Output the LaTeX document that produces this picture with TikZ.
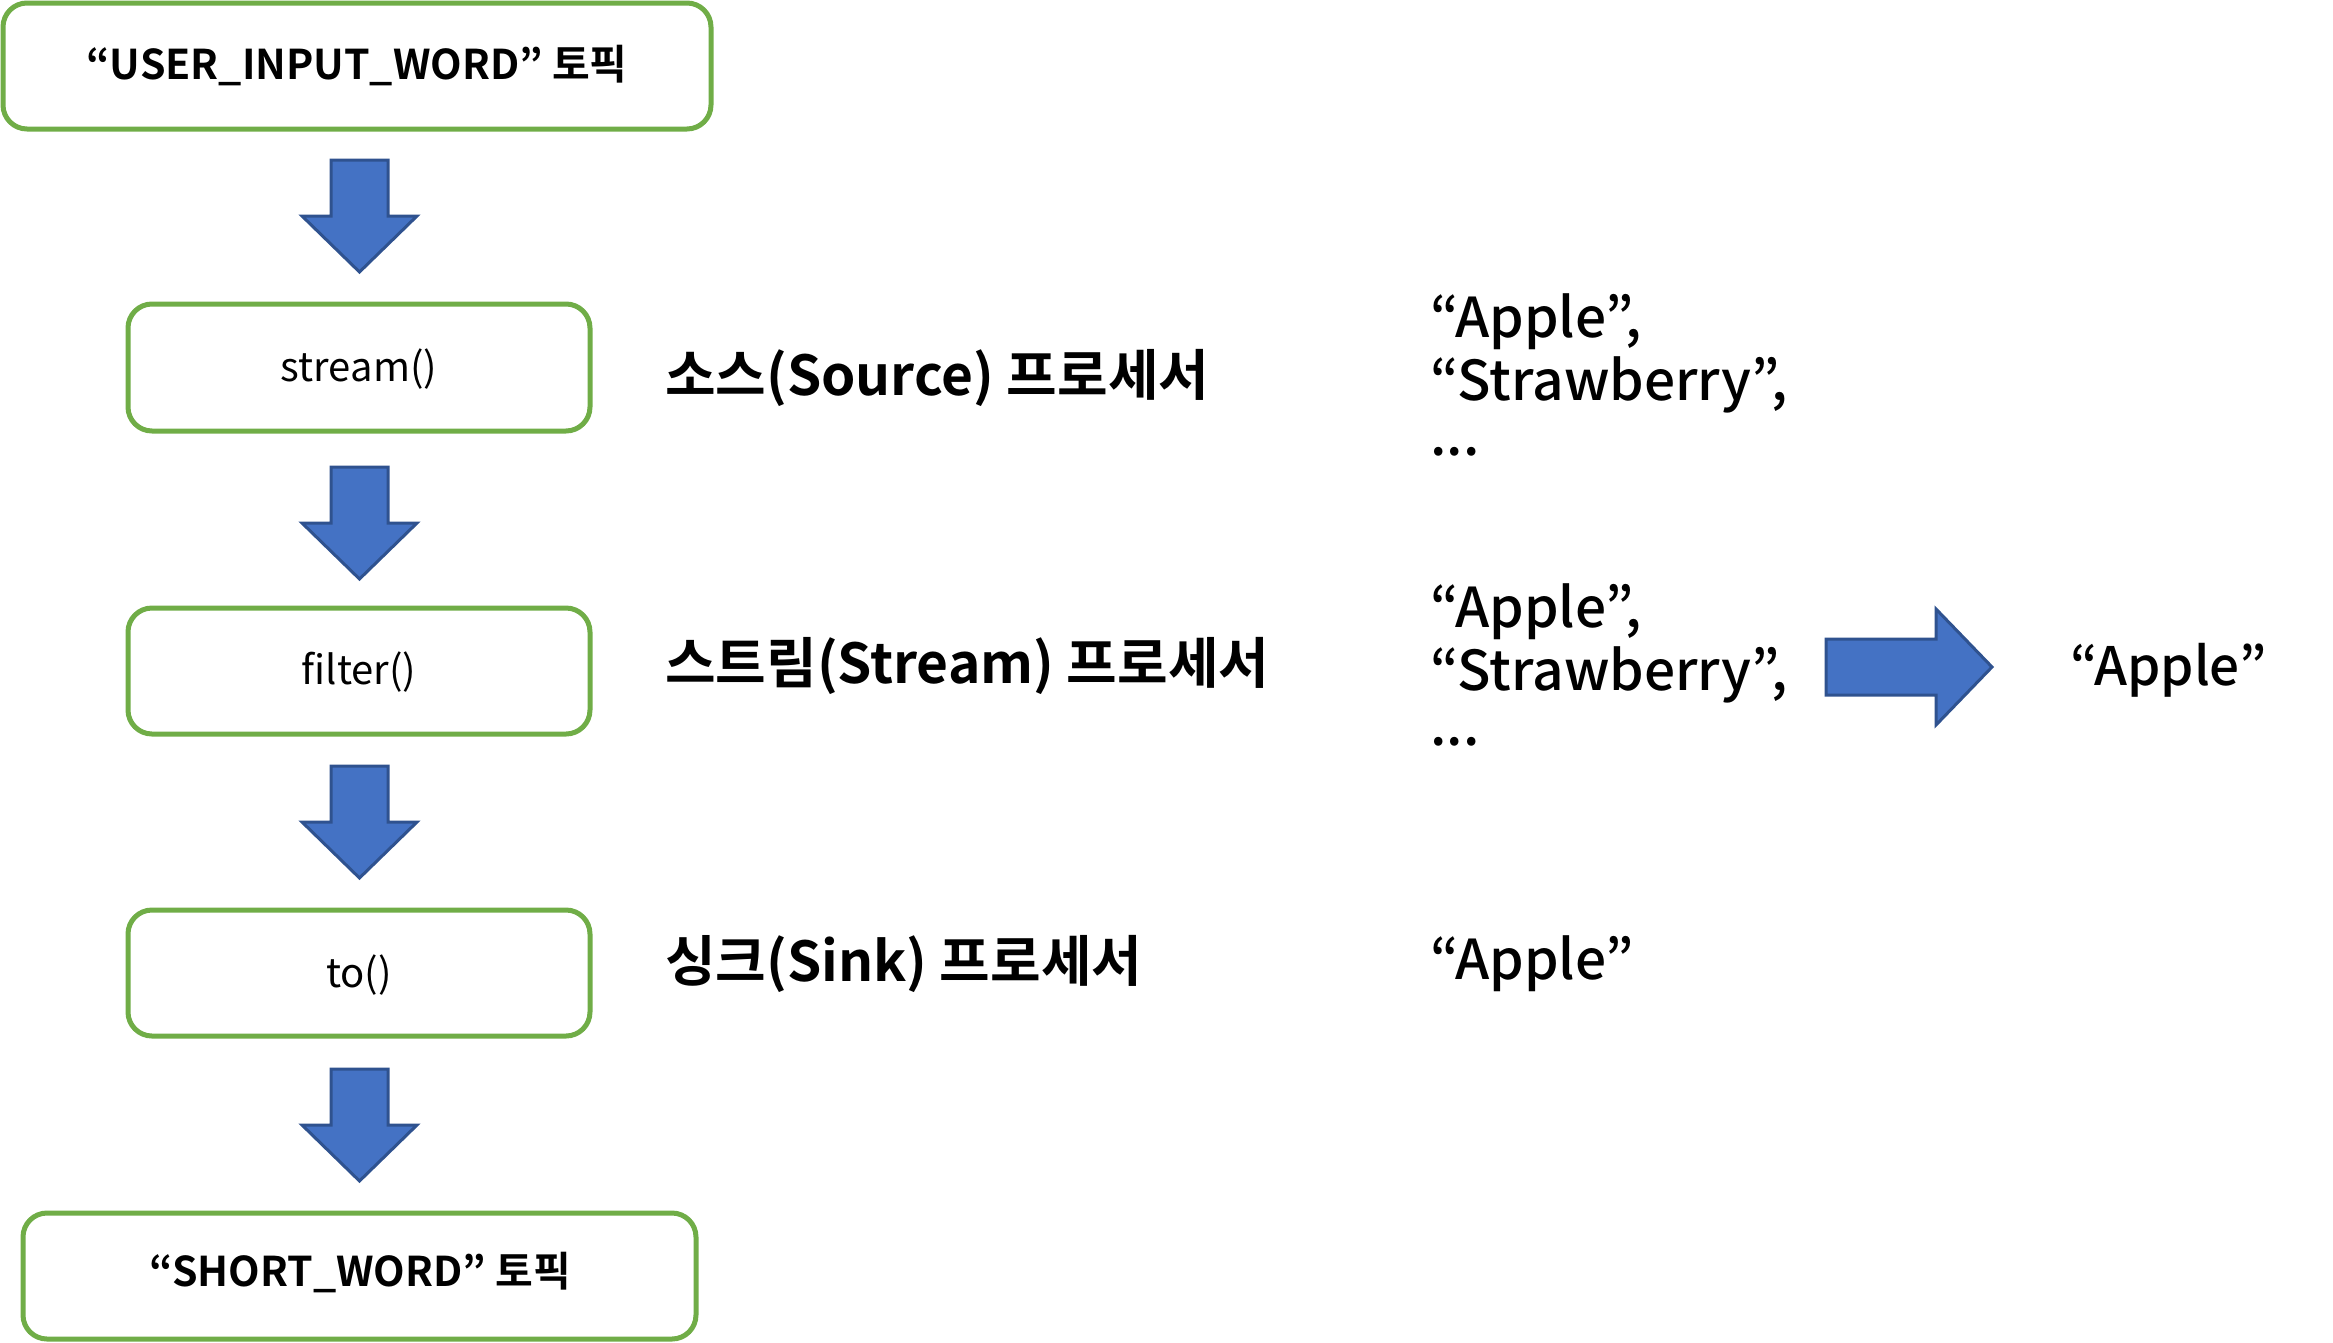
\documentclass[tikz,border=0pt]{standalone}
\usepackage{fontspec}
\setmainfont{Noto Sans CJK KR}
\newfontfamily\krbold{Noto Sans CJK KR Bold}
\newfontfamily\krmed{Noto Sans CJK KR Medium}
\usetikzlibrary{positioning}
\definecolor{boxgreen}{RGB}{112,173,71}
\definecolor{arrfill}{RGB}{68,114,196}
\definecolor{arrdraw}{RGB}{47,82,143}
\tikzset{
  flowbox/.style={draw=boxgreen, line width=5pt, rounded corners=24pt, fill=white},
  bigarrow/.style={fill=arrfill, draw=arrdraw, line width=3pt, line join=miter},
  boxtext/.style={font=\fontsize{40}{46}\selectfont, inner sep=0pt},
  topictext/.style={font=\krbold\fontsize{41}{48}\selectfont, inner sep=0pt},
  labeltext/.style={font=\krbold\fontsize{55}{63}\selectfont, anchor=base west, inner sep=0pt},
  valtext/.style={font=\krmed\fontsize{55}{63}\selectfont, anchor=base west, inner sep=0pt, align=left},
}
\begin{document}
\begin{tikzpicture}[x=1pt,y=-1pt]
\useasboundingbox (0,0) rectangle (2333,1342);
% boxes
\draw[flowbox] (3,3) rectangle (711,129);
\node[topictext] (user) at (357,66) {“USER\_INPUT\_WORD” 토픽};
\draw[flowbox] (128,304) rectangle (590,431);
\node[boxtext] (stream) at (359,369) {stream()};
\draw[flowbox] (128,608) rectangle (590,734);
\node[boxtext] (filter) at (359,672) {filter()};
\draw[flowbox] (128,910) rectangle (590,1036);
\node[boxtext] (to) at (359,975) {to()};
\draw[flowbox] (23,1213) rectangle (696,1339);
\node[topictext] (short) at (360,1272) {“SHORT\_WORD” 토픽};
% down arrows
\foreach \t in {160,467,766,1069}{
  \draw[bigarrow] (331,\t) -- (388,\t) -- (388,\t+56) -- (417,\t+56) -- (359.5,\t+112)
    -- (302,\t+56) -- (331,\t+56) -- cycle;
}
% right arrow
\draw[bigarrow] (1826,639) -- (1936,639) -- (1936,609) -- (1992,667) -- (1936,725)
  -- (1936,695) -- (1826,695) -- cycle;
% labels
\node[labeltext] (lsrc) at (665,395) {소스(Source) 프로세서};
\node[labeltext] (lstr) at (665,683) {스트림(Stream) 프로세서};
\node[labeltext] (lsnk) at (665,981) {싱크(Sink) 프로세서};
% values
\node[valtext] (v1a) at (1430,337) {“Apple”,};
\node[valtext] (v1b) at (1430,400) {“Strawberry”,};
\node[valtext] (v1c) at (1430,455) {...};
\node[valtext] (v2a) at (1430,627) {“Apple”,};
\node[valtext] (v2b) at (1430,690) {“Strawberry”,};
\node[valtext] (v2c) at (1430,745) {...};
\node[valtext] (v3) at (1430,979) {“Apple”};
\node[valtext, font=\krmed\fontsize{53}{60}\selectfont] (v4) at (2070,685) {“Apple”};
\end{tikzpicture}
\end{document}
